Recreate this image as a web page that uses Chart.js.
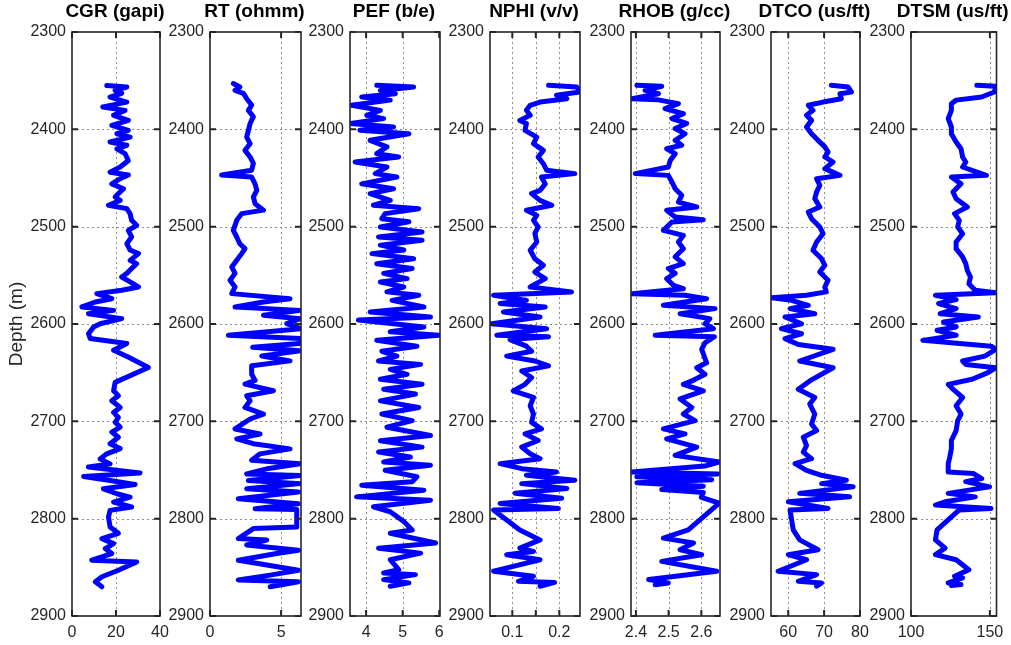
<!DOCTYPE html>
<html>
<head>
<meta charset="utf-8">
<title>Well log tracks</title>
<script src="https://cdn.jsdelivr.net/npm/chart.js@4.4.1/dist/chart.umd.min.js"></script>
<style>
  html, body { margin: 0; padding: 0; background: #fff; }
  #logs { position: relative; width: 1011px; height: 645px; overflow: hidden; }
  #logs canvas { position: absolute; left: 0; top: 0; }
</style>
</head>
<body>
<div id="logs"></div>
<script>
// ---- depth axis ----
const depthTicks = [2300, 2400, 2500, 2600, 2700, 2800, 2900];

// ---- CGR (gapi) ----
const cgrDepth = [
  2355, 2356.5, 2360, 2363, 2367, 2372, 2377, 2380.5, 2385.6, 2390.8,
  2396, 2401, 2404.5, 2408, 2413, 2416.4, 2420, 2425, 2432, 2438.7,
  2444, 2447, 2450.7, 2456, 2461, 2466, 2469.5, 2473, 2478, 2481.5,
  2486.6, 2493.5, 2498.6, 2503.8, 2510.6, 2517.5, 2524, 2527.7, 2534.6, 2538,
  2543, 2548, 2551.7, 2556.8, 2562, 2565.4, 2568.8, 2574, 2577.4, 2582.5,
  2586, 2589.4, 2594.5, 2599.7, 2603, 2610, 2615, 2620, 2627, 2634.5,
  2644.7, 2660, 2668.6, 2673.7, 2678.8, 2685.7, 2690.8, 2696, 2701, 2706,
  2711, 2716.4, 2723, 2728, 2733.4, 2738.6, 2743.7, 2747, 2753, 2756.7,
  2760.8, 2764.8, 2769.3, 2774.4, 2777.8, 2783, 2788, 2791.5, 2798.3, 2808.5,
  2815, 2820.5, 2825.6, 2830.7, 2835.8, 2842.7, 2844.4, 2853, 2859.7, 2864.8,
  2870
];
const cgrValue = [
  15.8, 24.9, 19.6, 22.6, 17.3, 24.9, 14.0, 24.1, 18.9, 25.6,
  18.1, 25.6, 20.4, 26.4, 17.3, 24.9, 20.4, 24.1, 25.6, 21.9,
  17.3, 25.6, 21.9, 18.1, 23.4, 21.1, 19.6, 21.9, 16.6, 24.9,
  26.4, 27.1, 29.4, 25.6, 27.1, 24.9, 26.4, 30.2, 26.4, 29.4,
  27.1, 24.9, 22.6, 26.4, 30.2, 22.6, 11.3, 18.1, 10.6, 4.5,
  18.9, 7.5, 22.6, 12.8, 9.8, 7.5, 8.3, 24.9, 18.9, 26.0,
  34.7, 19.6, 18.9, 21.1, 18.1, 21.9, 18.9, 21.1, 19.6, 21.9,
  18.1, 21.1, 17.3, 21.9, 15.8, 12.8, 17.3, 7.5, 30.9, 5.3,
  17.3, 28.7, 14.3, 20.4, 26.4, 18.9, 27.1, 17.3, 16.6, 17.3,
  21.1, 13.6, 18.9, 15.1, 18.1, 9.0, 29.4, 21.1, 13.6, 10.6,
  13.6
];
const cgrTicks = [0, 20, 40];
const cgrLabels = ['0', '20', '40'];

// ---- RT (ohmm) ----
const rtDepth = [
  2353, 2356.5, 2360, 2363, 2368.5, 2375, 2380.5, 2387, 2394, 2401,
  2408, 2414.7, 2421.6, 2428.4, 2435, 2442, 2447, 2449, 2456, 2462.7,
  2469.5, 2476.4, 2483, 2486.6, 2493.5, 2503.8, 2510.6, 2517.5, 2522.6, 2527.7,
  2534.6, 2541.4, 2548, 2555, 2562, 2568.8, 2574, 2577.4, 2582.5, 2586,
  2591, 2594.5, 2599.7, 2604.8, 2611.6, 2615, 2620, 2624, 2627.6, 2632.8,
  2637.9, 2643, 2651.5, 2658, 2661.8, 2668.6, 2673.7, 2678.8, 2685.7, 2692.5,
  2697.6, 2707.8, 2713, 2718, 2723, 2728.3, 2733.4, 2740, 2743.7, 2748.8,
  2754, 2755.6, 2760.8, 2764, 2769.3, 2772.7, 2779.5, 2784.6, 2789.8, 2790.5,
  2808.5, 2810.2, 2820.5, 2822, 2827, 2832.4, 2835.8, 2842.7, 2853, 2858,
  2863, 2864.8, 2870
];
const rtValue = [
  1.64, 2.1, 1.76, 2.35, 2.58, 2.93, 2.7, 3.05, 2.82, 2.7,
  2.58, 2.82, 2.46, 2.82, 3.05, 2.93, 0.82, 2.93, 3.17, 3.29,
  3.05, 3.17, 3.76, 2.23, 1.88, 1.64, 1.88, 2.1, 2.46, 2.23,
  1.88, 1.53, 1.76, 1.41, 1.76, 1.53, 5.63, 3.76, 1.76, 6.34,
  3.76, 6.34, 5.4, 6.4, 1.29, 6.34, 6.3, 3.0, 6.34, 3.64,
  5.63, 2.93, 2.93, 3.17, 2.46, 4.46, 2.58, 2.82, 2.46, 3.76,
  2.82, 1.76, 3.52, 1.88, 3.05, 5.63, 3.52, 2.93, 6.34, 3.99,
  2.58, 6.34, 2.7, 6.34, 2.58, 6.22, 1.99, 6.22, 3.17, 6.1,
  6.1, 3.05, 1.99, 3.99, 2.58, 6.22, 4.69, 1.99, 6.22, 4.23,
  1.99, 6.22, 4.23
];
const rtTicks = [0, 5];
const rtLabels = ['0', '5'];

// ---- PEF (b/e) ----
const pefDepth = [
  2354.8, 2356.5, 2360, 2363.4, 2366.8, 2370, 2375.3, 2380.5, 2385.6, 2389,
  2394, 2397.6, 2401, 2404.5, 2411.3, 2418, 2425, 2428.4, 2433.6, 2438.7,
  2445.5, 2449, 2456, 2461, 2466, 2473, 2478, 2481.5, 2486.6, 2491.8,
  2495, 2500.3, 2505.5, 2510.6, 2514, 2519, 2524, 2527.7, 2533, 2538,
  2543, 2548, 2553.4, 2556.8, 2562, 2567, 2570.5, 2575.7, 2582.5, 2587.7,
  2592.8, 2596, 2603, 2608, 2611.6, 2616.8, 2622.8, 2628, 2633, 2638,
  2641.5, 2646.6, 2651.7, 2656.8, 2661.9, 2667, 2672, 2679, 2685.7, 2692.5,
  2699.3, 2706, 2714.6, 2720, 2726.5, 2731.6, 2736.7, 2741.8, 2745.2, 2750.3,
  2757, 2762, 2765.6, 2770.7, 2777.6, 2781, 2787.8, 2792.9, 2803, 2811.6,
  2815, 2825, 2830.3, 2835.4, 2842.2, 2852.4, 2855.8, 2857.5, 2862.6, 2866,
  2869.4
];
const pefValue = [
  4.29, 5.3, 4.39, 4.8, 3.88, 4.66, 3.6, 4.39, 4.02, 4.48,
  3.58, 4.75, 3.83, 5.17, 4.11, 4.57, 4.29, 4.89, 3.7, 4.57,
  4.25, 4.84, 3.88, 4.75, 4.11, 4.66, 4.2, 5.44, 4.52, 4.43,
  5.17, 4.39, 5.53, 4.34, 5.53, 4.39, 5.03, 4.16, 5.3, 4.29,
  5.26, 4.48, 5.12, 4.39, 5.03, 4.57, 5.44, 4.71, 5.58, 4.11,
  5.76, 3.79, 5.58, 4.66, 5.99, 4.29, 5.39, 4.43, 4.84, 4.34,
  5.49, 4.66, 5.12, 4.39, 5.53, 4.48, 5.35, 4.39, 5.44, 4.43,
  5.26, 4.57, 5.76, 4.39, 5.53, 4.34, 5.21, 4.48, 5.76, 4.52,
  5.39, 5.26, 3.88, 5.58, 3.74, 5.76, 4.2, 4.66, 5.03, 5.26,
  4.66, 5.9, 4.34, 5.49, 4.66, 4.89, 4.48, 5.35, 4.48, 5.17,
  4.66
];
const pefTicks = [4, 5, 6];
const pefLabels = ['4', '5', '6'];

// ---- NPHI (v/v) ----
const nphiDepth = [
  2354.8, 2356.5, 2361.6, 2365, 2368.5, 2372, 2375.3, 2380.5, 2385.6, 2390.8,
  2394, 2401, 2408, 2414.7, 2421.6, 2428.4, 2435.3, 2442, 2445.5, 2449,
  2456, 2462.7, 2466, 2473, 2478, 2483.2, 2488.4, 2493.5, 2500.3, 2507,
  2515.8, 2524.3, 2533, 2539.7, 2546.6, 2553.4, 2562, 2567, 2570.5, 2575.7,
  2579, 2582.5, 2587.7, 2592.8, 2599.7, 2604.8, 2611.6, 2613, 2616, 2622.8,
  2628, 2633, 2638, 2643, 2648.3, 2655, 2662, 2668.7, 2675.5, 2684,
  2692.5, 2701, 2707.8, 2712.9, 2719.7, 2726.5, 2733.3, 2738.4, 2743.5, 2748.6,
  2752, 2755.4, 2760.5, 2764, 2769, 2774, 2779, 2784.4, 2789.5, 2791,
  2811.6, 2821.8, 2830.3, 2833.7, 2837, 2842.2, 2849, 2854, 2859.2, 2864.3,
  2865.5, 2869.4
];
const nphiValue = [
  0.177, 0.237, 0.243, 0.194, 0.216, 0.159, 0.138, 0.130, 0.138, 0.116,
  0.130, 0.127, 0.152, 0.145, 0.166, 0.155, 0.166, 0.173, 0.233, 0.162,
  0.170, 0.159, 0.141, 0.159, 0.184, 0.130, 0.152, 0.145, 0.155, 0.148,
  0.152, 0.138, 0.148, 0.166, 0.148, 0.170, 0.138, 0.226, 0.060, 0.130,
  0.074, 0.170, 0.081, 0.159, 0.056, 0.173, 0.067, 0.177, 0.095, 0.130,
  0.141, 0.088, 0.148, 0.177, 0.120, 0.141, 0.127, 0.102, 0.145, 0.138,
  0.145, 0.141, 0.162, 0.127, 0.155, 0.120, 0.138, 0.159, 0.074, 0.120,
  0.194, 0.130, 0.233, 0.120, 0.216, 0.106, 0.205, 0.074, 0.198, 0.060,
  0.116, 0.159, 0.116, 0.145, 0.088, 0.159, 0.102, 0.060, 0.145, 0.113,
  0.190, 0.159
];
const nphiTicks = [0.1, 0.15, 0.2];
const nphiLabels = ['0.1', '', '0.2'];

// ---- RHOB (g/cc) ----
const rhobDepth = [
  2354.8, 2355.8, 2360, 2363.4, 2368.5, 2369.5, 2373.6, 2378.8, 2384, 2389,
  2394, 2399.3, 2404.5, 2411.3, 2416.4, 2420, 2425, 2432, 2438.7, 2445.5,
  2447.3, 2454, 2461, 2467.8, 2474.7, 2479.8, 2483.2, 2490, 2492.8, 2495.2,
  2503.8, 2509, 2515.8, 2522.6, 2531, 2538, 2543, 2548, 2553.4, 2560.3,
  2563.7, 2568.8, 2570.5, 2574, 2580.8, 2584.2, 2589.4, 2594.5, 2599.7, 2604.8,
  2611.6, 2613, 2619.4, 2626, 2639.8, 2645, 2651.7, 2658.5, 2662, 2668.7,
  2677, 2685.7, 2692.5, 2699.3, 2707.8, 2712.9, 2718, 2726.5, 2735, 2741.8,
  2746, 2752, 2754, 2757, 2760, 2763, 2766.6, 2770, 2773, 2778,
  2784, 2811.6, 2820, 2825, 2832, 2837, 2843.9, 2854, 2862.6, 2866,
  2868
];
const rhobValue = [
  2.403, 2.479, 2.428, 2.469, 2.388, 2.464, 2.530, 2.489, 2.545, 2.510,
  2.555, 2.520, 2.550, 2.520, 2.540, 2.494, 2.520, 2.505, 2.499, 2.398,
  2.499, 2.510, 2.520, 2.540, 2.530, 2.586, 2.494, 2.520, 2.606, 2.510,
  2.484, 2.545, 2.530, 2.545, 2.520, 2.545, 2.499, 2.520, 2.494, 2.515,
  2.545, 2.388, 2.550, 2.616, 2.484, 2.642, 2.535, 2.626, 2.611, 2.637,
  2.459, 2.640, 2.611, 2.601, 2.616, 2.586, 2.611, 2.571, 2.545, 2.606,
  2.535, 2.571, 2.545, 2.581, 2.484, 2.550, 2.494, 2.586, 2.520, 2.655,
  2.610, 2.387, 2.650, 2.403, 2.632, 2.403, 2.606, 2.479, 2.606, 2.600,
  2.655, 2.560, 2.484, 2.576, 2.535, 2.601, 2.479, 2.647, 2.439, 2.499,
  2.459
];
const rhobTicks = [2.4, 2.5, 2.6];
const rhobLabels = ['2.4', '2.5', '2.6'];

// ---- DTCO (us/ft) ----
const dtcoDepth = [
  2354.8, 2356.5, 2361.6, 2363.4, 2368.5, 2372, 2375.3, 2380.5, 2385.6, 2390.8,
  2397.6, 2404.5, 2411.3, 2418, 2423.3, 2428.4, 2433.6, 2440.4, 2447.3, 2450.7,
  2457.5, 2464.4, 2471.2, 2479.8, 2485, 2491.8, 2500.3, 2507.2, 2515.8, 2524.3,
  2533, 2539.7, 2546.6, 2555, 2562, 2567, 2570.5, 2573, 2575.7, 2580.8,
  2584.2, 2589.4, 2592.8, 2599.7, 2604.8, 2610, 2615, 2621, 2626, 2638,
  2645, 2658.5, 2667, 2675.5, 2682.3, 2692.5, 2702.7, 2709.5, 2716.3, 2724.8,
  2731.6, 2738.4, 2743.5, 2750.3, 2755.4, 2760.5, 2764, 2767.3, 2774, 2777.6,
  2782.7, 2789.5, 2791, 2811.6, 2821.8, 2832, 2837, 2842.2, 2854, 2857.5,
  2864.3, 2866, 2869.4
];
const dtcoValue = [
  72.0, 76.7, 77.6, 74.4, 74.8, 69.7, 65.6, 66.9, 65.1, 66.5,
  65.1, 66.5, 68.3, 70.2, 71.1, 70.2, 72.5, 70.2, 74.4, 67.9,
  68.8, 67.9, 67.4, 68.8, 65.6, 66.5, 68.8, 69.7, 67.9, 66.9,
  69.3, 70.2, 68.8, 71.1, 70.2, 70.6, 65.1, 55.4, 60.9, 65.6,
  60.5, 67.4, 59.1, 63.7, 58.1, 63.7, 59.1, 62.8, 72.5, 63.2,
  72.5, 66.0, 62.8, 67.4, 66.0, 67.4, 66.5, 67.9, 64.2, 65.1,
  64.2, 66.5, 61.9, 65.1, 69.3, 76.2, 69.3, 78.1, 63.2, 77.1,
  60.0, 71.1, 60.5, 61.4, 63.2, 68.3, 60.0, 65.1, 57.2, 67.9,
  62.8, 69.3, 67.9
];
const dtcoTicks = [60, 70, 80];
const dtcoLabels = ['60', '70', '80'];

// ---- DTSM (us/ft) ----
const dtsmDepth = [
  2354.8, 2355.8, 2361.6, 2366.8, 2370, 2373.6, 2380.5, 2389, 2397.6, 2404.5,
  2413, 2420, 2428.4, 2433.6, 2438.7, 2447.3, 2449, 2456, 2464.4, 2471.2,
  2479.8, 2486.6, 2493.5, 2500.3, 2507.2, 2515.8, 2522.6, 2531, 2538, 2545,
  2551.7, 2558.6, 2565.4, 2568, 2570.5, 2575, 2579, 2584.2, 2589.4, 2592.8,
  2598, 2603, 2606.5, 2611.6, 2616.8, 2622.8, 2626, 2633, 2638, 2641.5,
  2645, 2650, 2656.8, 2662, 2667, 2675.5, 2684, 2692.5, 2699.3, 2709.5,
  2719.7, 2728, 2736.7, 2743.5, 2752, 2753.7, 2758.8, 2762, 2767.3, 2770.7,
  2774, 2777.6, 2782.7, 2786, 2789.5, 2791, 2811.6, 2821.8, 2830.3, 2837,
  2842.2, 2852.4, 2859.2, 2860.8, 2866, 2867.7, 2868.7
];
const dtsmValue = [
  141.7, 153.8, 152.8, 144.8, 128.6, 125.6, 125.6, 123.6, 125.6, 125.6,
  128.6, 131.7, 132.7, 134.7, 132.7, 147.8, 125.6, 131.7, 126.6, 128.6,
  135.7, 127.6, 130.6, 129.6, 132.7, 128.6, 128.6, 132.7, 134.7, 135.7,
  137.7, 136.7, 140.7, 153.8, 115.5, 128.6, 117.5, 128.6, 118.5, 142.7,
  120.6, 128.6, 116.5, 128.6, 107.5, 150.8, 153.8, 146.8, 132.7, 134.7,
  153.8, 148.8, 138.7, 123.6, 126.6, 132.7, 128.6, 131.7, 129.6, 128.6,
  125.6, 125.6, 124.6, 123.6, 123.6, 139.7, 144.8, 134.7, 149.8, 136.7,
  123.6, 140.7, 121.6, 115.5, 150.8, 130.6, 116.5, 115.5, 121.6, 115.5,
  128.6, 136.7, 127.6, 132.7, 123.6, 131.7, 125.6
];
const dtsmTicks = [100, 150];
const dtsmLabels = ['100', '150'];

// ---- track layout ----
const PAGE_W = 1011, PAGE_H = 645;
const fontFamily = "'Liberation Sans', Arial, Helvetica, sans-serif";
const ink = '#262626';

const tracks = [
  { title: 'CGR (gapi)', depth: cgrDepth, value: cgrValue, ticks: cgrTicks, labels: cgrLabels, min: 0, max: 40, left: 72, right: 160, depthTitle: true },
  { title: 'RT (ohmm)', depth: rtDepth, value: rtValue, ticks: rtTicks, labels: rtLabels, min: 0, max: 6.4, left: 210, right: 301 },
  { title: 'PEF (b/e)', depth: pefDepth, value: pefValue, ticks: pefTicks, labels: pefLabels, min: 3.56, max: 6.02, left: 350, right: 440 },
  { title: 'NPHI (v/v)', depth: nphiDepth, value: nphiValue, ticks: nphiTicks, labels: nphiLabels, min: 0.0525, max: 0.244, left: 490, right: 580 },
  { title: 'RHOB (g/cc)', depth: rhobDepth, value: rhobValue, ticks: rhobTicks, labels: rhobLabels, min: 2.385, max: 2.657, left: 631, right: 720 },
  { title: 'DTCO (us/ft)', depth: dtcoDepth, value: dtcoValue, ticks: dtcoTicks, labels: dtcoLabels, min: 55.2, max: 80, left: 771, right: 860 },
  { title: 'DTSM (us/ft)', depth: dtsmDepth, value: dtsmValue, ticks: dtsmTicks, labels: dtsmLabels, min: 100, max: 154.2, left: 911, right: 1001 }
];

// Dotted grid under the curve, boxed frame with inward tick marks and
// the track heading on top.
const boxedTrack = {
  id: 'boxedTrack',
  beforeDatasetsDraw(chart) {
    const { ctx, chartArea: a, scales: { x, y } } = chart;
    ctx.save();
    ctx.strokeStyle = '#8c8c8c';
    ctx.lineWidth = 1;
    ctx.setLineDash([2, 3]);
    ctx.beginPath();
    x.ticks.forEach(t => {
      const p = Math.round(x.getPixelForValue(t.value)) + 0.5;
      if (p > a.left + 2 && p < a.right - 2) { ctx.moveTo(p, a.top); ctx.lineTo(p, a.bottom); }
    });
    y.ticks.forEach(t => {
      const p = Math.round(y.getPixelForValue(t.value)) + 0.5;
      if (p > a.top + 2 && p < a.bottom - 2) { ctx.moveTo(a.left, p); ctx.lineTo(a.right, p); }
    });
    ctx.stroke();
    ctx.restore();
  },
  afterDatasetsDraw(chart, args, opts) {
    const { ctx, chartArea: a, scales: { x, y } } = chart;
    const len = 6;
    ctx.save();
    ctx.strokeStyle = ink;
    ctx.lineWidth = 1.6;
    ctx.setLineDash([]);
    ctx.strokeRect(a.left, a.top, a.right - a.left, a.bottom - a.top);
    ctx.lineWidth = 2;
    ctx.beginPath();
    x.ticks.forEach(t => {
      const p = x.getPixelForValue(t.value);
      ctx.moveTo(p, a.top); ctx.lineTo(p, a.top + len);
      ctx.moveTo(p, a.bottom); ctx.lineTo(p, a.bottom - len);
    });
    y.ticks.forEach(t => {
      const p = y.getPixelForValue(t.value);
      ctx.moveTo(a.left, p); ctx.lineTo(a.left + len, p);
      ctx.moveTo(a.right, p); ctx.lineTo(a.right - len, p);
    });
    ctx.stroke();

    // track heading, centred over the plot box
    ctx.fillStyle = '#000';
    ctx.font = `bold 19px ${fontFamily}`;
    ctx.textAlign = 'center';
    ctx.textBaseline = 'alphabetic';
    ctx.fillText(opts.heading, (a.left + a.right) / 2 - 1, 17);
    ctx.restore();
  }
};

const host = document.getElementById('logs');

tracks.forEach(t => {
  const canvas = document.createElement('canvas');
  canvas.width = PAGE_W;
  canvas.height = PAGE_H;
  host.appendChild(canvas);

  const yAxisWidth = t.depthTitle ? t.left : 50;

  new Chart(canvas, {
    type: 'scatter',
    data: {
      datasets: [{
        data: t.depth.map((d, i) => ({ x: t.value[i], y: d })),
        showLine: true,
        borderColor: '#0000ff',
        backgroundColor: '#0000ff',
        borderWidth: 5,
        pointRadius: 0,
        pointHoverRadius: 0,
        tension: 0,
        borderJoinStyle: 'round',
        borderCapStyle: 'round'
      }]
    },
    options: {
      responsive: false,
      animation: false,
      devicePixelRatio: 1,
      events: [],
      layout: {
        padding: { left: t.left - yAxisWidth, right: PAGE_W - t.right, top: 32, bottom: 5 }
      },
      plugins: {
        legend: { display: false },
        tooltip: { enabled: false },
        title: { display: false },
        boxedTrack: { heading: t.title }
      },
      scales: {
        x: {
          type: 'linear',
          position: 'bottom',
          min: t.min,
          max: t.max,
          grid: { display: false, drawTicks: false },
          border: { display: false },
          afterBuildTicks: s => { s.ticks = t.ticks.map(v => ({ value: v })); },
          afterFit: s => { s.height = 24; },
          ticks: {
            color: ink,
            font: { family: fontFamily, size: 16 },
            padding: 7,
            maxRotation: 0,
            autoSkip: false,
            callback: (v, i) => t.labels[i]
          }
        },
        y: {
          type: 'linear',
          position: 'left',
          reverse: true,
          min: depthTicks[0],
          max: depthTicks[depthTicks.length - 1],
          grid: { display: false, drawTicks: false },
          border: { display: false },
          afterBuildTicks: s => { s.ticks = depthTicks.map(v => ({ value: v })); },
          afterFit: s => { s.width = yAxisWidth; },
          title: {
            display: !!t.depthTitle,
            text: 'Depth (m)',
            color: ink,
            font: { family: fontFamily, size: 19 },
            padding: { top: 5, bottom: 0 }
          },
          ticks: {
            color: ink,
            font: { family: fontFamily, size: 16 },
            padding: 6,
            autoSkip: false,
            callback: v => String(v)
          }
        }
      }
    },
    plugins: [boxedTrack]
  });
});
</script>
</body>
</html>
